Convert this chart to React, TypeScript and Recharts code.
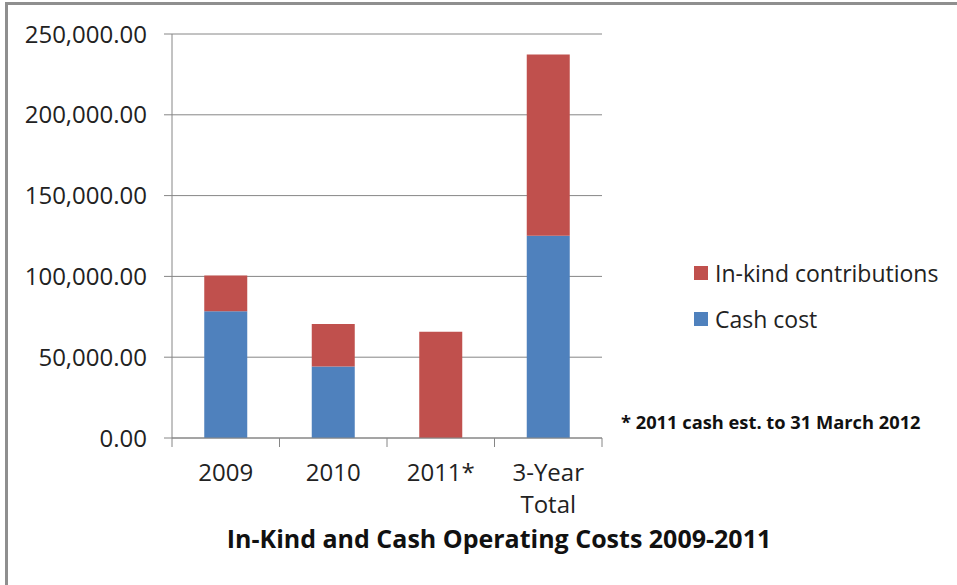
import React from 'react';
import { BarChart, Bar, XAxis, YAxis, CartesianGrid } from 'recharts';

const categories = ['2009', '2010', '2011*', '3-Year Total'];
const cashCost = [78500, 44300, 0, 125200];
const inKindContributions = [22000, 26200, 65700, 112100];
const yTicks = [0, 50000, 100000, 150000, 200000, 250000];

const seriesNames = { cash: 'Cash cost', inKind: 'In-kind contributions' };
const BLUE = '#4F81BD';
const RED = '#C0504D';
const GRID = '#868686';
const FONT = '"Open Sans", sans-serif';

const data = categories.map((c, i) => ({
  category: c,
  cash: cashCost[i],
  inKind: inKindContributions[i],
}));

const CategoryTick = (props: any) => {
  const { x, y, payload, index, visibleTicksCount } = props;
  const half = payload.offset || 0;
  const label: string = payload.value;
  const lines = label.includes(' ') ? label.split(' ') : [label];
  const isLast = index === (visibleTicksCount ?? categories.length) - 1;
  return (
    <g>
      <line x1={x - half} x2={x - half} y1={y} y2={y + 9} stroke={GRID} strokeWidth={1} />
      {isLast && <line x1={x + half} x2={x + half} y1={y} y2={y + 9} stroke={GRID} strokeWidth={1} />}
      <text x={x} y={y} textAnchor="middle" fill="#222" fontSize={24} fontFamily={FONT}>
        {lines.map((l, i) => (
          <tspan key={i} x={x} dy={i === 0 ? 43 : 32}>
            {l}
          </tspan>
        ))}
      </text>
    </g>
  );
};

const legendItems = [
  { name: seriesNames.inKind, color: RED },
  { name: seriesNames.cash, color: BLUE },
];

export default function App() {
  return (
    <div style={{ position: 'absolute', left: 0, top: 0, width: 957, height: 585, background: '#fff', overflow: 'hidden' }}>
      <div
        style={{
          position: 'absolute',
          left: 5,
          top: 2,
          width: 1000,
          height: 700,
          borderLeft: '3px solid #8f8f8f',
          borderTop: '3px solid #8f8f8f',
        }}
      />
      <div style={{ position: 'absolute', left: 0, top: 0 }}>
        <BarChart
          width={957}
          height={585}
          data={data}
          margin={{ top: 34, right: 355, left: 0, bottom: 47 }}
          barCategoryGap="30%"
        >
          <CartesianGrid vertical={false} stroke={GRID} strokeWidth={1} />
          <XAxis
            dataKey="category"
            height={100}
            stroke={GRID}
            axisLine={{ stroke: GRID }}
            tickLine={false}
            tickSize={0}
            tickMargin={0}
            interval={0}
            tick={<CategoryTick />}
          />
          <YAxis
            width={172}
            domain={[0, 250000]}
            ticks={yTicks}
            interval={0}
            tickSize={8}
            tickMargin={17}
            stroke={GRID}
            tick={{ fill: '#222', fontSize: 24, fontFamily: FONT }}
            tickFormatter={(v: number) =>
              v.toLocaleString('en-US', { minimumFractionDigits: 2, maximumFractionDigits: 2 })
            }
          />
          <Bar dataKey="cash" name={seriesNames.cash} stackId="a" fill={BLUE} isAnimationActive={false} />
          <Bar dataKey="inKind" name={seriesNames.inKind} stackId="a" fill={RED} isAnimationActive={false} />
        </BarChart>
      </div>
      <div style={{ position: 'absolute', left: 694, top: 249, fontFamily: FONT, fontSize: 23, color: '#222' }}>
        {legendItems.map((it, i) => (
          <div key={it.name} style={{ display: 'flex', alignItems: 'center', height: i === 0 ? 47 : 45, whiteSpace: 'nowrap' }}>
            <span style={{ display: 'inline-block', width: 14, height: 14, background: it.color, marginRight: 7 }} />
            <span>{it.name}</span>
          </div>
        ))}
      </div>
      <div
        style={{
          position: 'absolute',
          left: 621,
          top: 410,
          lineHeight: '24px',
          fontFamily: FONT,
          fontSize: 18.3,
          fontWeight: 'bold',
          color: '#111',
          whiteSpace: 'nowrap',
        }}
      >
        * 2011 cash est. to 31 March 2012
      </div>
      <div
        style={{
          position: 'absolute',
          left: 199,
          width: 600,
          top: 522,
          lineHeight: '32px',
          textAlign: 'center',
          fontFamily: FONT,
          fontSize: 25,
          fontWeight: 'bold',
          color: '#111',
          whiteSpace: 'nowrap',
        }}
      >
        In-Kind and Cash Operating Costs 2009-2011
      </div>
    </div>
  );
}
